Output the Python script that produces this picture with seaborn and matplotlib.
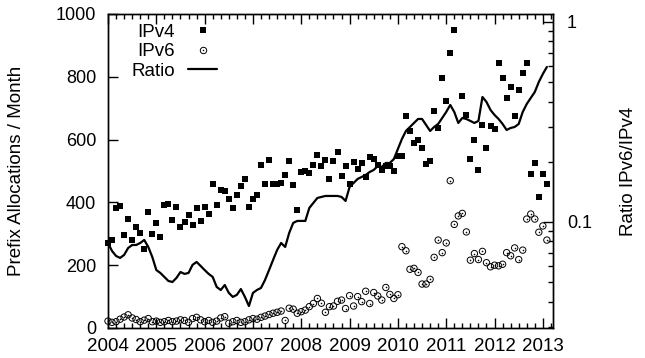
import numpy as np
import pandas as pd
import matplotlib
matplotlib.use("Agg")
import matplotlib.pyplot as plt
import seaborn as sns
from matplotlib.lines import Line2D
from matplotlib.ticker import MultipleLocator, LogLocator, NullFormatter, FixedLocator, FixedFormatter

# ---------------- data (monthly, starting 2004-01) ----------------
start_month = "2004-01"

ipv4 = [
    271, 280, 381, 388, 296, 346, 280, 322, 304, 251, 370, 299,
    333, 290, 393, 396, 343, 384, 322, 338, 359, 327, 381, 340,
    386, 362, 458, 391, 439, 435, 410, 382, 423, 452, 473, 385,
    411, 423, 518, 458, 536, 458, 460, 462, 488, 532, 455, 376,
    498, 499, 495, 520, 552, 515, 534, 474, 532, 559, 483, 517,
    460, 530, 505, 524, 481, 544, 537, 520, 502, 515, 516, 499,
    549, 547, 676, 626, 590, 598, 572, 522, 532, 690, 638, 797,
    722, 877, 950, 1060, 739, 677, 537, 598, 502, 648, 572, 644,
    635, 845, 797, 733, 767, 676, 759, 812, 845, 490, 527, 416,
    490, 458,
]

ipv6 = [
    22, 18, 20, 28, 35, 42, 32, 27, 20, 25, 30, 20,
    22, 18, 20, 24, 20, 22, 26, 24, 18, 30, 34, 26,
    20, 24, 18, 22, 32, 36, 15, 20, 24, 18, 20, 26,
    30, 28, 34, 38, 43, 47, 50, 54, 24, 63, 60, 47,
    52, 57, 68, 78, 94, 79, 50, 68, 70, 85, 89, 62,
    103, 70, 100, 84, 117, 78, 113, 102, 89, 129, 107, 94,
    106, 259, 246, 187, 190, 177, 140, 140, 155, 225, 280, 240,
    271, 469, 330, 357, 365, 306, 216, 237, 218, 244, 208, 195,
    200, 198, 203, 240, 230, 255, 218, 248, 347, 363, 347, 305,
    325, 280,
]

ratio = [
    0.0785, 0.0716, 0.0676, 0.0661, 0.0684, 0.0741, 0.0767, 0.0767, 0.0785, 0.0813, 0.0750, 0.0668,
    0.0575, 0.0556, 0.0531, 0.0507, 0.0501, 0.0525, 0.0562, 0.0550, 0.0556, 0.0610, 0.0631, 0.0603,
    0.0575, 0.0550, 0.0531, 0.0473, 0.0457, 0.0484, 0.0442, 0.0422, 0.0432, 0.0462, 0.0422, 0.0380,
    0.0442, 0.0457, 0.0468, 0.0513, 0.0575, 0.0646, 0.0724, 0.0785, 0.0750, 0.0881, 0.0989, 0.1012,
    0.1012, 0.1012, 0.1175, 0.1245, 0.1318, 0.1334, 0.1349, 0.1349, 0.1349, 0.1349, 0.1334, 0.1274,
    0.1496, 0.1567, 0.1641, 0.1679, 0.1718, 0.1778, 0.1820, 0.1905, 0.1884, 0.1972, 0.1972, 0.2065,
    0.2317, 0.2600, 0.2851, 0.2985, 0.3126, 0.3273, 0.3273, 0.3055, 0.2851, 0.2985, 0.3090, 0.3311,
    0.3548, 0.3846, 0.3548, 0.3126, 0.3311, 0.3273, 0.3199, 0.3126, 0.3199, 0.4217, 0.3981, 0.3631,
    0.3428, 0.3273, 0.3090, 0.2884, 0.2951, 0.2985, 0.3090, 0.3548, 0.3890, 0.4169, 0.4467, 0.5012,
    0.5495, 0.5957,
]

year_ticks = list(range(2004, 2014))
alloc_ticks = [0, 200, 400, 600, 800, 1000]
ratio_ticks = [0.1, 1]
ratio_tick_labels = ["0.1", "1"]
series_labels = ["IPv4", "IPv6", "Ratio"]
ylabel_left = "Prefix Allocations / Month"
ylabel_right = "Ratio IPv6/IPv4"

# ---------------- frame ----------------
months = pd.period_range(start_month, periods=len(ipv4), freq="M")
t = months.year + (months.month - 1) / 12.0
df = pd.DataFrame({"t": t, "ipv4": ipv4, "ipv6": ipv6, "ratio": ratio})

sns.set_theme(style="white", rc={
    "axes.edgecolor": "black", "text.color": "black", "axes.labelcolor": "black",
    "xtick.color": "black", "ytick.color": "black", "axes.linewidth": 1.0,
})
plt.rcParams["font.family"] = ["Liberation Sans", "DejaVu Sans"]

W, H = 645, 358
fig = plt.figure(figsize=(W / 100, H / 100), dpi=100)
L, R, T, B = 108, 553, 14, 328
ax = fig.add_axes([L / W, 1 - B / H, (R - L) / W, (B - T) / H])
ax2 = ax.twinx()

ymax = 1000
v4 = df[df["ipv4"] <= ymax]
sns.scatterplot(data=v4, x="t", y="ipv4", marker="s", s=17, color="black",
                linewidth=0, ax=ax, clip_on=False, legend=False, zorder=3)
sns.scatterplot(data=df, x="t", y="ipv6", marker="o", s=21, facecolors="none",
                edgecolor="black", linewidth=0.7, ax=ax, clip_on=False, legend=False, zorder=3)
ax.collections[-1].set_facecolor("none")
sns.scatterplot(data=df, x="t", y="ipv6", marker="o", s=1.3, color="black",
                linewidth=0, ax=ax, clip_on=False, legend=False, zorder=3)
sns.lineplot(data=df, x="t", y="ratio", color="black", linewidth=1.6, ax=ax2, legend=False)

# ---------------- axes ----------------
fs_xtick = 13.5
fs_ytick = 13
ax.set_xlim(2004, 2013.21)
ax.set_ylim(0, ymax)
ax.set_xticks(year_ticks)
ax.set_xticklabels([str(y) for y in year_ticks])
ax.xaxis.set_minor_locator(MultipleLocator(1 / 6))
ax.set_yticks(alloc_ticks)
ax.tick_params(axis="x", which="both", direction="in", top=True, bottom=True, width=1)
ax.tick_params(axis="x", which="major", length=7, pad=7.5, labelsize=fs_xtick)
ax.tick_params(axis="x", which="minor", length=3.5)
ax.tick_params(axis="y", which="major", direction="in", length=7, width=1,
               left=True, right=False, pad=8.5, labelsize=fs_ytick)

ax2.set_yscale("log")
ax2.set_ylim(0.0295, 1.096)
ax2.yaxis.set_major_locator(FixedLocator(ratio_ticks))
ax2.yaxis.set_major_formatter(FixedFormatter(ratio_tick_labels))
ax2.yaxis.set_minor_locator(LogLocator(base=10, subs=np.arange(2, 10)))
ax2.yaxis.set_minor_formatter(NullFormatter())
ax2.tick_params(axis="y", which="both", direction="in", right=True, left=False, width=1)
ax2.tick_params(axis="y", which="major", length=7, pad=10, labelsize=fs_ytick)
ax2.tick_params(axis="y", which="minor", length=3.5)

ax.set_xlabel("")
ax.set_ylabel(ylabel_left, fontsize=13.5)
ax.yaxis.set_label_coords(-0.186, 0.5)
ax2.set_ylabel(ylabel_right, fontsize=13.5)
ax2.yaxis.set_label_coords(1.15, 0.5)

for a in (ax, ax2):
    for s in a.spines.values():
        s.set_color("black")
        s.set_linewidth(1.0)

# ---------------- legend ----------------
h4 = Line2D([], [], marker="s", ls="none", color="black", markersize=4.1, markeredgewidth=0)
h6a = Line2D([], [], marker="o", ls="none", mfc="none", mec="black", markersize=4.6, markeredgewidth=0.7)
h6b = Line2D([], [], marker="o", ls="none", color="black", markersize=1.1, markeredgewidth=0)
hr = Line2D([], [], color="black", lw=1.6)
leg = ax2.legend([h4, (h6a, h6b), hr], series_labels, loc="upper left",
                 bbox_to_anchor=(0.053, 0.97), frameon=False, markerfirst=False,
                 fontsize=13.5, handlelength=1.55, handletextpad=0.7,
                 labelspacing=0.14, borderaxespad=0, borderpad=0)
try:
    for col in leg._legend_handle_box.get_children():
        col.align = "right"
except Exception:
    pass

fig.savefig("out.png", dpi=100)
